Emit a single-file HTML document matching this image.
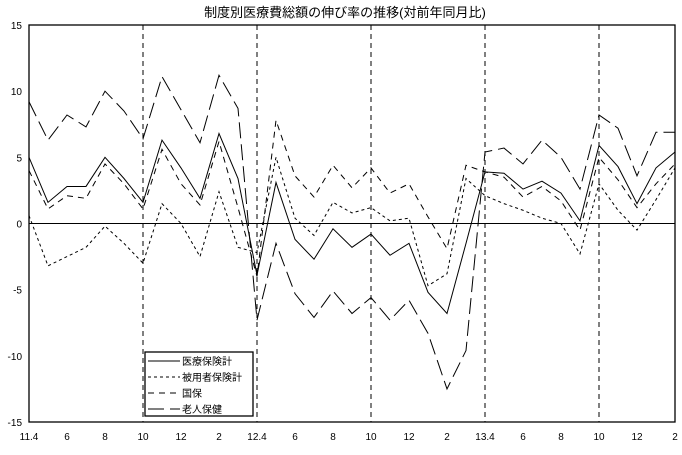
<!DOCTYPE html>
<html><head><meta charset="utf-8"><style>
body{margin:0;background:#fff}
svg text{font-family:"Liberation Sans","Noto Sans CJK JP",sans-serif;fill:#000}
</style></head><body>
<svg id="c" width="682" height="450" xmlns="http://www.w3.org/2000/svg">
<text x="345" y="17" font-size="13" text-anchor="middle">制度別医療費総額の伸び率の推移(対前年同月比)</text>
</svg>
<script>
const xLabels=["11.4","6","8","10","12","2","12.4","6","8","10","12","2","13.4","6","8","10","12","2"];
const yTicks=[15,10,5,0,-5,-10,-15];
const iryo=[5.0,1.6,2.8,2.8,5.0,3.4,1.6,6.3,4.2,1.9,6.8,3.4,-3.9,3.1,-1.2,-2.7,-0.4,-1.8,-0.8,-2.4,-1.5,-5.2,-6.8,-1.5,3.9,3.8,2.6,3.2,2.3,0.2,5.9,4.3,1.5,4.2,5.4];
const hiyo=[0.6,-3.2,-2.5,-1.8,-0.2,-1.5,-3.0,1.5,0.0,-2.5,2.4,-1.8,-2.2,5.0,0.4,-0.9,1.6,0.8,1.2,0.2,0.4,-4.7,-3.8,3.4,2.1,1.5,1.0,0.4,0.0,-2.3,3.0,1.0,-0.5,1.8,4.2];
const kokuho=[4.0,1.1,2.1,1.9,4.5,3.0,1.1,5.6,3.0,1.4,6.2,1.2,-4.0,7.8,3.6,2.0,4.4,2.7,4.2,2.3,3.0,0.5,-1.9,4.4,3.9,3.5,2.0,2.8,1.7,-0.5,5.0,3.3,1.2,3.0,4.5];
const rojin=[9.2,6.3,8.2,7.3,10.0,8.5,6.4,11.1,8.6,6.1,11.2,8.7,-7.3,-1.5,-5.3,-7.1,-5.1,-6.8,-5.6,-7.3,-5.8,-8.3,-12.5,-9.6,5.4,5.7,4.5,6.3,5.0,2.6,8.2,7.2,3.6,6.9,6.9];
const svg=document.getElementById('c');const NS="http://www.w3.org/2000/svg";
const L=29,R=675,T=25,B=422,N=35;
const xs=i=>L+i*(R-L)/(N-1);
const ys=v=>T+(15-v)*(B-T)/30;
function mk(t,a){const e=document.createElementNS(NS,t);for(const k in a)e.setAttribute(k,a[k]);svg.appendChild(e);return e;}
let f=mk('rect',{x:L,y:T,width:R-L,height:B-T,fill:'none',stroke:'#000','stroke-width':1.3});


yTicks.forEach(v=>{const t=mk('text',{x:22,y:ys(v)+4,'font-size':10,'text-anchor':'end'});t.textContent=v;

});
xLabels.forEach((s,k)=>{const t=mk('text',{x:xs(k*2),y:440,'font-size':10,'text-anchor':'middle'});t.textContent=s;

});
for(let i=6;i<N;i+=6){const l=mk('line',{x1:xs(i),x2:xs(i),y1:T,y2:B,stroke:'#000','stroke-dasharray':'5,4'});

}
const z=mk('line',{x1:L,x2:R,y1:ys(0),y2:ys(0),stroke:'#000'});


const series=[[iryo,'none','series-iryo'],[hiyo,'3,3','series-hiyo'],[kokuho,'6,5','series-kokuho'],[rojin,'16,6','series-rojin']];
series.forEach(([d,da,nm])=>{const p=mk('polyline',{points:d.map((v,i)=>xs(i)+','+ys(v)).join(' '),fill:'none',stroke:'#000','stroke-width':1,'stroke-dasharray':da});

});
const lg=mk('rect',{x:145,y:352,width:108,height:64,fill:'#fff',stroke:'#000','stroke-width':1.3});


const names=['医療保険計','被用者保険計','国保','老人保健'];
names.forEach((n,k)=>{const y=361+k*16;const l=mk('line',{x1:148,x2:180,y1:y,y2:y,stroke:'#000','stroke-dasharray':series[k][1]});


const t=mk('text',{x:182,y:y+4,'font-size':10});t.textContent=n;

});
</script>
</body></html>
